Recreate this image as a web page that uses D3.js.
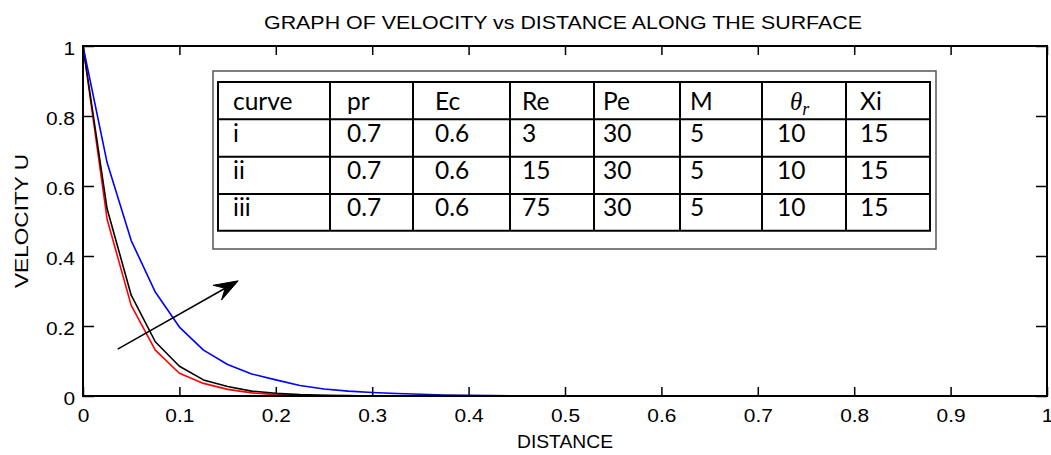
<!DOCTYPE html>
<html>
<head>
<meta charset="utf-8">
<script src="https://cdn.jsdelivr.net/npm/d3@7"></script>
<style>
  html, body { margin: 0; padding: 0; background: #fff; }
  svg { display: block; }
</style>
</head>
<body>
<svg id="chart" width="1051" height="455"></svg>
<script>
// Sample positions along the surface
const distance = [0, 0.025, 0.05, 0.075, 0.1, 0.125, 0.15, 0.175, 0.2, 0.225,
  0.25, 0.275, 0.3, 0.325, 0.35, 0.375, 0.4, 0.425, 0.45, 0.475,
  0.5, 0.525, 0.55, 0.575, 0.6, 0.625, 0.65, 0.675, 0.7, 0.725,
  0.75, 0.775, 0.8, 0.825, 0.85, 0.875, 0.9, 0.925, 0.95, 0.975, 1];

// Velocity profiles, curve i (Re = 3), ii (Re = 15), iii (Re = 75)
const velocityI = [1, 0.505, 0.259, 0.131, 0.065, 0.036, 0.019, 0.009, 0.004, 0.002,
  0.001, 0, 0, 0, 0, 0, 0, 0, 0, 0,
  0, 0, 0, 0, 0, 0, 0, 0, 0, 0,
  0, 0, 0, 0, 0, 0, 0, 0, 0, 0, 0];
const velocityII = [1, 0.535, 0.288, 0.155, 0.085, 0.046, 0.027, 0.014, 0.008, 0.004,
  0.002, 0.001, 0, 0, 0, 0, 0, 0, 0, 0,
  0, 0, 0, 0, 0, 0, 0, 0, 0, 0,
  0, 0, 0, 0, 0, 0, 0, 0, 0, 0, 0];
const velocityIII = [1, 0.667, 0.444, 0.297, 0.197, 0.131, 0.090, 0.063, 0.046, 0.030,
  0.020, 0.014, 0.010, 0.007, 0.005, 0.003, 0.002, 0.001, 0, 0,
  0, 0, 0, 0, 0, 0, 0, 0, 0, 0,
  0, 0, 0, 0, 0, 0, 0, 0, 0, 0, 0];

const seriesColors = ["#ff0000", "#000000", "#0000ff"];

// Axis ticks
const xTicks = [0, 0.1, 0.2, 0.3, 0.4, 0.5, 0.6, 0.7, 0.8, 0.9, 1];
const xTickLabels = ["0", "0.1", "0.2", "0.3", "0.4", "0.5", "0.6", "0.7", "0.8", "0.9", "1"];
const yTicks = [0, 0.2, 0.4, 0.6, 0.8, 1];
const yTickLabels = ["0", "0.2", "0.4", "0.6", "0.8", "1"];

// Parameter table
const tableHeader = ["curve", "pr", "Ec", "Re", "Pe", "M", "θr", "Xi"];
const curveNames = ["i", "ii", "iii"];
const prValues = ["0.7", "0.7", "0.7"];
const ecValues = ["0.6", "0.6", "0.6"];
const reValues = ["3", "15", "75"];
const peValues = ["30", "30", "30"];
const mValues = ["5", "5", "5"];
const thetaValues = ["10", "10", "10"];
const xiValues = ["15", "15", "15"];

// Arrow showing the direction of increasing Re (data coordinates)
const arrowFrom = [0.036, 0.134];
const arrowTo = [0.161, 0.329];

const svg = d3.select("#chart");
svg.append("rect").attr("width", 1051).attr("height", 455).attr("fill", "#fff");

const plot = { left: 83, right: 1047, top: 46, bottom: 396 };
const x = d3.scaleLinear().domain([0, 1]).range([plot.left, plot.right]);
const y = d3.scaleLinear().domain([0, 1]).range([plot.bottom, plot.top]);

const tickFont = "'Liberation Sans', Arial, sans-serif";

// Widen text slightly, the labels are drawn with a broad sans face
function widen(sel, factor) {
  sel.each(function () {
    const w = this.getComputedTextLength();
    if (w > 0) {
      d3.select(this).attr("textLength", w * factor).attr("lengthAdjust", "spacingAndGlyphs");
    }
  });
}

// Tick marks on all four sides, pointing inward
const axB = svg.append("g").attr("transform", `translate(0,${plot.bottom})`)
  .call(d3.axisBottom(x).tickValues(xTicks).tickSizeInner(-9).tickSizeOuter(0)
    .tickFormat((d, i) => xTickLabels[i]));
const axT = svg.append("g").attr("transform", `translate(0,${plot.top})`)
  .call(d3.axisTop(x).tickValues(xTicks).tickSizeInner(-9).tickSizeOuter(0).tickFormat(""));
const axL = svg.append("g").attr("transform", `translate(${plot.left},0)`)
  .call(d3.axisLeft(y).tickValues(yTicks).tickSizeInner(-11).tickSizeOuter(0)
    .tickFormat((d, i) => yTickLabels[i]));
const axR = svg.append("g").attr("transform", `translate(${plot.right},0)`)
  .call(d3.axisRight(y).tickValues(yTicks).tickSizeInner(-11).tickSizeOuter(0).tickFormat(""));

[axB, axT, axL, axR].forEach(g => {
  g.select(".domain").remove();
  g.selectAll(".tick line").attr("stroke", "#000").attr("stroke-width", 1.5);
  g.selectAll(".tick text").attr("fill", "#000")
    .style("font-family", tickFont).style("font-size", "19px");
});
axB.selectAll(".tick text").attr("dy", "0.71em").attr("y", 13);
axL.selectAll(".tick text").attr("dy", "0.38em").attr("x", -8)
  .attr("transform", "translate(0,1)");
widen(axB.selectAll(".tick text"), 1.1);
widen(axL.selectAll(".tick text"), 1.1);

// Velocity curves
const line = d3.line().x((d, i) => x(distance[i])).y(d => y(d));
[velocityI, velocityII, velocityIII].forEach((vals, k) => {
  svg.append("path").datum(vals)
    .attr("d", line)
    .attr("fill", "none")
    .attr("stroke", seriesColors[k])
    .attr("stroke-width", 1.6)
    .attr("stroke-linejoin", "round");
});

// Axes box
svg.append("rect")
  .attr("x", plot.left).attr("y", plot.top)
  .attr("width", plot.right - plot.left).attr("height", plot.bottom - plot.top)
  .attr("fill", "none").attr("stroke", "#000").attr("stroke-width", 2);

// Title and axis labels
svg.append("text")
  .attr("x", (plot.left + plot.right) / 2 - 2).attr("y", 29)
  .attr("text-anchor", "middle")
  .attr("textLength", 598).attr("lengthAdjust", "spacingAndGlyphs")
  .style("font-family", tickFont).style("font-size", "18.5px")
  .text("GRAPH OF VELOCITY vs DISTANCE ALONG THE SURFACE");

svg.append("text")
  .attr("x", (plot.left + plot.right) / 2).attr("y", 448)
  .attr("text-anchor", "middle")
  .attr("textLength", 96).attr("lengthAdjust", "spacingAndGlyphs")
  .style("font-family", tickFont).style("font-size", "18px")
  .text("DISTANCE");

svg.append("text")
  .attr("transform", `translate(28,${(plot.top + plot.bottom) / 2}) rotate(-90)`)
  .attr("text-anchor", "middle")
  .attr("textLength", 134).attr("lengthAdjust", "spacingAndGlyphs")
  .style("font-family", tickFont).style("font-size", "18px")
  .text("VELOCITY U");

// Arrow
const ax0 = x(arrowFrom[0]), ay0 = y(arrowFrom[1]);
const ax1 = x(arrowTo[0]), ay1 = y(arrowTo[1]);
const len = Math.hypot(ax1 - ax0, ay1 - ay0);
const ux = (ax1 - ax0) / len, uy = (ay1 - ay0) / len;
const nx = -uy, ny = ux;
const headLen = 24, headHalf = 8.5, notch = 15;
svg.append("line")
  .attr("x1", ax0).attr("y1", ay0)
  .attr("x2", ax1 - ux * notch).attr("y2", ay1 - uy * notch)
  .attr("stroke", "#000").attr("stroke-width", 1.5);
const head = [
  [ax1, ay1],
  [ax1 - ux * headLen + nx * headHalf, ay1 - uy * headLen + ny * headHalf],
  [ax1 - ux * notch, ay1 - uy * notch],
  [ax1 - ux * headLen - nx * headHalf, ay1 - uy * headLen - ny * headHalf]
];
svg.append("path")
  .attr("d", "M" + head.map(p => p.join(",")).join("L") + "Z")
  .attr("fill", "#000").attr("stroke", "#000").attr("stroke-width", 1)
  .attr("stroke-linejoin", "miter");

// Parameter table
const tbl = svg.append("g");
tbl.append("rect")
  .attr("x", 213).attr("y", 71).attr("width", 723).attr("height", 178)
  .attr("fill", "#fff").attr("stroke", "#555").attr("stroke-width", 1.5);

const colEdges = [218, 330, 413, 510, 594, 680, 762, 846, 930];
const colText = [233, 347, 435, 522, 603, 690, 777, 860];
const rowEdges = [82, 119.3, 156.7, 194, 230.7];
const rowBase = [110, 141.5, 178.7, 216];
const tableFont = "Lato, 'Open Sans', sans-serif";

const rows = [tableHeader].concat(curveNames.map((c, i) =>
  [c, prValues[i], ecValues[i], reValues[i], peValues[i], mValues[i], thetaValues[i], xiValues[i]]));

rows.forEach((row, r) => {
  row.forEach((cell, c) => {
    if (r === 0 && c === 6) {
      const t = tbl.append("text")
        .attr("x", 790).attr("y", rowBase[0])
        .style("font-family", "'Liberation Serif', 'DejaVu Serif', serif")
        .style("font-style", "italic").style("font-size", "25px");
      t.append("tspan").text(cell.charAt(0));
      t.append("tspan").attr("dy", 5).style("font-size", "18px").text(cell.slice(1));
      return;
    }
    tbl.append("text")
      .attr("x", colText[c]).attr("y", rowBase[r])
      .style("font-family", tableFont).style("font-size", "24.5px")
      .attr("fill", "#000")
      .text(cell);
  });
});

rowEdges.forEach(yy => {
  tbl.append("line").attr("x1", colEdges[0] - 1).attr("x2", colEdges[colEdges.length - 1] + 1)
    .attr("y1", yy).attr("y2", yy).attr("stroke", "#000").attr("stroke-width", 2);
});
colEdges.forEach(xx => {
  tbl.append("line").attr("x1", xx).attr("x2", xx)
    .attr("y1", rowEdges[0]).attr("y2", rowEdges[rowEdges.length - 1])
    .attr("stroke", "#000").attr("stroke-width", 2);
});
</script>
</body>
</html>
